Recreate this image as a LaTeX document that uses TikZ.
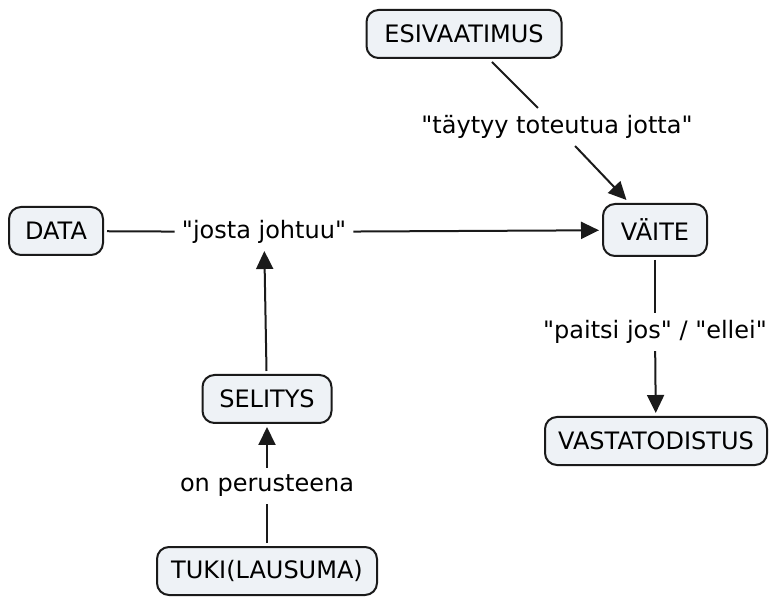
\documentclass[tikz,border=0pt]{standalone}
\usepackage{fontspec}
\setmainfont{DejaVu Sans}
\usetikzlibrary{arrows.meta}
\definecolor{my_fill}{HTML}{EEF2F6}
\definecolor{my_line}{HTML}{1A1A1A}
\newcommand{\gq}{\textquotedbl}

\begin{document}
\begin{tikzpicture}[
    x=0.5pt, y=-0.5pt,
    font=\fontsize{12}{14}\selectfont,
    begriff/.style={draw=my_line, fill=my_fill, line width=1pt, rounded corners=6pt,
        minimum height=24pt, inner xsep=5pt, outer sep=2pt},
    rel/.style={inner sep=3.5pt},
    linie/.style={line width=1pt, my_line},
    pfeil/.style={linie, -{Triangle[length=9pt, width=8.5pt]}}
]
\useasboundingbox (0,0) rectangle (769,597);

% ===== Begriffe =====
\node[begriff, minimum width=97.5pt] (esiv) at (464, 34) {ESIVAATIMUS};
\node[begriff, minimum width=47pt] (data) at (56, 231) {DATA};
\node[begriff, minimum width=52pt, minimum height=26pt] (vaite) at (655, 230) {VÄITE};
\node[begriff, minimum width=64.5pt] (selitys) at (267, 399) {SELITYS};
\node[begriff, minimum width=110pt] (tuki) at (267, 571) {TUKI(LAUSUMA)};
\node[begriff, minimum width=111pt] (vasta) at (656, 441) {VASTATODISTUS};

% ===== Verknuepfungen =====
\node[rel] (josta) at (264, 232) {\gq josta johtuu\gq};
\node[rel] (taytyy) at (557, 127) {\gq täytyy toteutua jotta\gq};
\node[rel] (paitsi) at (655, 332) {\gq paitsi jos\gq{} / \gq ellei\gq};
\node[rel] (peruste) at (267, 486) {on perusteena};

\draw[linie] (data) -- (josta);
\draw[pfeil] (josta) -- (vaite);
\draw[linie] (esiv) -- (taytyy);
\draw[pfeil] (taytyy) -- (vaite);
\draw[linie] (vaite) -- (paitsi);
\draw[pfeil] (paitsi) -- (vasta);
\draw[pfeil] (selitys) -- (josta);
\draw[linie] (tuki) -- (peruste);
\draw[pfeil] (peruste) -- (selitys);

\end{tikzpicture}
\end{document}
